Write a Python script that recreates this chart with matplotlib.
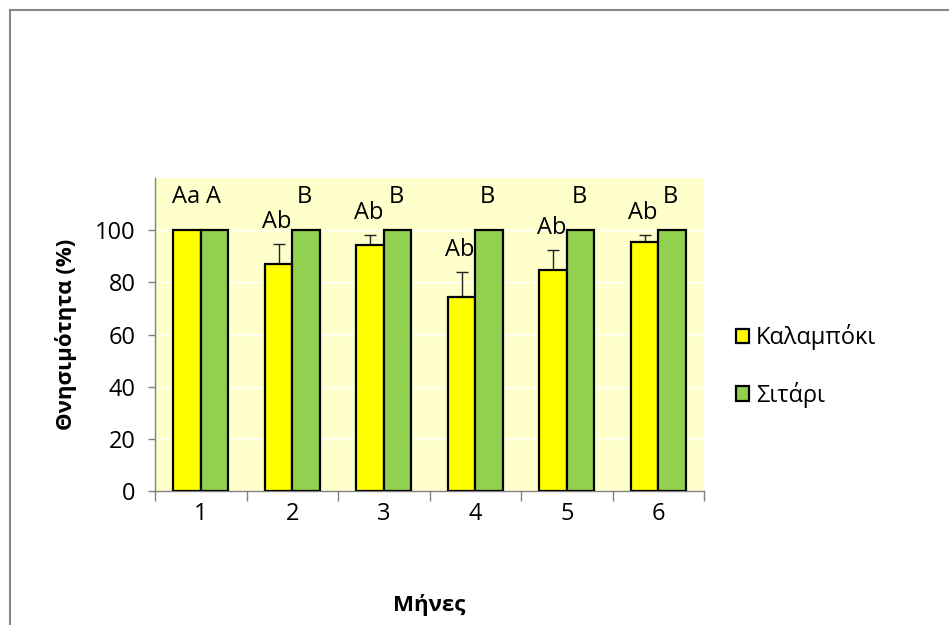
import matplotlib
matplotlib.use("Agg")
import matplotlib.pyplot as plt
from matplotlib.lines import Line2D
import numpy as np

plt.rcParams['font.family'] = ['Open Sans', 'DejaVu Sans']

# Mortality (%) per month for each host grain
months = ["1", "2", "3", "4", "5", "6"]
corn = [100, 87, 94.3, 74.4, 84.8, 95.3]
corn_err = [0, 7.7, 3.8, 9.5, 7.5, 2.8]
wheat = [100, 100, 100, 100, 100, 100]
wheat_err = [0, 0, 0, 0, 0, 0]
corn_letters = ["Aa", "Ab", "Ab", "Ab", "Ab", "Ab"]
wheat_letters = ["A", "B", "B", "B", "B", "B"]
series_names = ["Καλαμπόκι", "Σιτάρι"]
y_ticks = [0, 20, 40, 60, 80, 100]

W, H = 949, 625
fig = plt.figure(figsize=(W / 100, H / 100), dpi=100)
ax = fig.add_axes([155 / W, 1 - 491 / H, (704 - 155) / W, (491 - 178) / H])
ax.set_facecolor("#FFFFCC")

x = np.arange(len(months))
bw = 0.3
yellow = "#FFFF00"
green = "#92D050"

b1 = ax.bar(x - bw / 2, corn, bw, color=yellow, edgecolor="black", linewidth=1.6,
            label=series_names[0], zorder=3)
b2 = ax.bar(x + bw / 2, wheat, bw, color=green, edgecolor="black", linewidth=1.6,
            label=series_names[1], zorder=3)

# upper-only error bars
ax.errorbar(x - bw / 2, corn, yerr=[np.zeros(len(corn)), corn_err], fmt="none",
            ecolor="#222222", elinewidth=1, capsize=4, capthick=1, zorder=2)

# significance letters above each bar
for xs, vals, errs, letters in [(x - bw / 2, corn, corn_err, corn_letters),
                                (x + bw / 2, wheat, wheat_err, wheat_letters)]:
    for xi, v, e, t in zip(xs, vals, errs, letters):
        off = 11.5 if e > 0 else 19.5
        ax.annotate(t, (xi, v + e), xytext=(-1, off), textcoords="offset points",
                    ha="center", va="baseline", fontsize=17, zorder=4)

ax.set_ylim(0, 120)
ax.set_xlim(-0.5, len(months) - 0.5)
ax.set_yticks(y_ticks)
ax.yaxis.grid(True, color="white", linewidth=1, zorder=0)
ax.set_axisbelow(True)

ax.set_xticks(x)
ax.set_xticklabels(months)
ax.set_xticks(np.arange(len(months) + 1) - 0.5, minor=True)
ax.tick_params(axis="x", which="major", length=0, pad=8, labelsize=17)
ax.tick_params(axis="x", which="minor", length=7, color="#808080", width=1)
ax.tick_params(axis="y", length=5, color="#808080", width=1, pad=9, labelsize=17)

for s in ["top", "right"]:
    ax.spines[s].set_visible(False)
for s in ["left", "bottom"]:
    ax.spines[s].set_color("#808080")
    ax.spines[s].set_linewidth(1)

ax.set_ylabel("Θνησιμότητα (%)", fontsize=16, fontweight="bold", va="center")
ax.yaxis.set_label_coords((66 - 155) / (704 - 155), 0.5)
ax.set_xlabel("Μήνες", fontsize=16, fontweight="bold", va="center")
ax.xaxis.set_label_coords(0.5, (491 - 605) / (491 - 178))

ax.legend(handles=[b1, b2], loc="center left", bbox_to_anchor=(736 / W, 1 - 366 / H),
          bbox_transform=fig.transFigure, frameon=False, fontsize=17,
          handlelength=0.55, handleheight=0.55, handletextpad=0.3,
          labelspacing=1.35, borderpad=0, borderaxespad=0)

# chart frame (top and left edges)
fig.add_artist(Line2D([10 / W, 1], [1 - 9.5 / H, 1 - 9.5 / H], color="#888888", lw=1.5))
fig.add_artist(Line2D([10 / W, 10 / W], [0, 1 - 9.5 / H], color="#888888", lw=1.5))

fig.savefig("out.png", dpi=100)
